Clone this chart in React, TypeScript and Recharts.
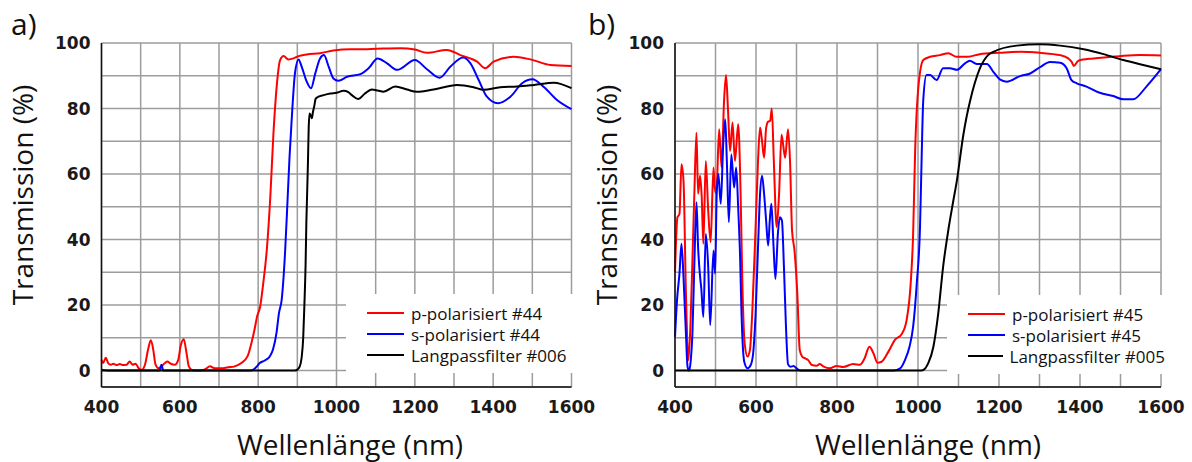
import { LineChart, Line, XAxis, YAxis, CartesianGrid, Legend } from "recharts";

type Pt = [number, number];

const X_TICKS = [400, 500, 600, 700, 800, 900, 1000, 1100, 1200, 1300, 1400, 1500, 1600];
const Y_TICKS = [0, 10, 20, 30, 40, 50, 60, 70, 80, 90, 100];

// panel a) — filter #44 / Langpass #006
const P44: Pt[] = [
  [400, 3.3], [404, 2.3], [411, 3.9], [417, 2.3], [424, 1.8], [430, 2.1], [438, 1.7], [447, 2.0],
  [455, 1.7], [464, 1.8], [472, 2.8], [479, 1.8], [487, 2.1], [495, 0.7], [502, 0.2], [511, 1.8],
  [519, 6.5], [526, 9.3], [532, 6.5], [538, 1.8], [546, 0.7], [553, 1.3], [562, 2.3], [568, 2.8],
  [577, 2.1], [587, 1.8], [596, 3.3], [602, 7.5], [610, 9.6], [617, 5.4], [623, 1.3], [631, 0.2],
  [647, 0], [664, 0.4], [677, 1.3], [689, 0.7], [706, 0.7], [723, 1.0], [740, 1.3], [757, 2.3],
  [773, 4.4], [783, 8.5], [791, 12.7], [797, 16.4], [805, 19.5], [813, 26.7], [822, 36.8], [831, 53],
  [839, 72.4], [848, 87.7], [856, 94.8], [865, 96], [877, 95], [890, 95.3], [903, 96], [924, 96.5],
  [958, 96.9], [992, 97.7], [1035, 98.1], [1078, 98.1], [1120, 98.3], [1163, 98.4], [1200, 98.0],
  [1231, 97], [1282, 97.9], [1316, 96.3], [1359, 94.3], [1380, 92.3], [1401, 94.3], [1452, 95.8],
  [1495, 95], [1546, 93.3], [1600, 93],
];

const S44: Pt[] = [
  [400, 0.3], [420, 0], [540, 0], [548, 0], [553, 1.8], [558, 0], [780, 0], [790, 0.5], [796, 1.2],
  [804, 2.3], [817, 3.1], [830, 4.4], [838, 6.5], [847, 11.7], [853, 17.5], [860, 21.6], [869, 36.8],
  [875, 52], [880, 65], [886, 77.5], [894, 90.8], [903, 95], [911, 92.8], [924, 88.2], [935, 86.2],
  [946, 90.8], [958, 95.3], [968, 96.3], [980, 92.8], [992, 89.2], [1005, 88.5], [1027, 89.7],
  [1061, 90.5], [1082, 92.3], [1105, 95.3], [1129, 93.8], [1155, 91.8], [1200, 94.8], [1231, 92],
  [1263, 89.4], [1291, 92.8], [1323, 95.6], [1342, 93.8], [1363, 88.7], [1384, 83.6], [1412, 81.6],
  [1444, 83.6], [1474, 87.7], [1500, 88.9], [1530, 86.5], [1563, 82.6], [1600, 79.8],
];

const LP006: Pt[] = [
  [400, 0], [893, 0], [900, 0.3], [906, 1.2], [911, 4], [915, 10], [918, 20], [921, 32], [923, 45],
  [925, 54], [927, 63], [929, 74], [931, 78.5], [934, 78], [937, 77], [940, 79], [943, 80.6],
  [947, 83], [954, 83.6], [967, 84.1], [984, 84.6], [1000, 84.8], [1018, 85.4], [1030, 85],
  [1040, 84], [1055, 82.9], [1072, 84.5], [1090, 85.8], [1105, 85.5], [1120, 85.1], [1150, 86.7],
  [1180, 85.8], [1205, 85.1], [1248, 85.8], [1308, 87.2], [1350, 86.5], [1376, 85.7], [1418, 86.5],
  [1461, 86.7], [1504, 87.2], [1555, 87.9], [1600, 86.2],
];

// panel b) — filter #45 / Langpass #005
const P45: Pt[] = [
  [400, 30], [406, 46.8], [411, 47.8], [416, 63], [421, 58], [427, 23.5], [433, 3.2], [438, 13.4],
  [443, 33.6], [448, 55], [453, 72.6], [457, 54], [462, 59.5], [466, 52.9], [470, 38.7], [476, 64],
  [482, 48.8], [488, 39.2], [495, 62], [498, 56], [502, 54], [509, 73.7], [515, 62], [521, 82],
  [526, 90.2], [531, 79.2], [536, 67], [542, 75.7], [548, 64], [556, 75.2], [562, 54], [566, 28.6],
  [572, 8.3], [579, 4.3], [585, 6.3], [591, 18.4], [599, 43.8], [605, 64], [610, 74.2], [615, 70],
  [620, 65], [625, 74], [630, 76], [635, 76.2], [639, 80], [644, 64], [651, 43.8], [657, 54],
  [663, 72], [667, 69], [672, 65], [679, 73.7], [684, 64], [689, 42.8], [695, 36.7], [702, 23.5],
  [708, 6.3], [714, 4.3], [722, 3.7], [729, 3.2], [738, 1.7], [750, 1.5], [757, 2], [766, 1.3],
  [782, 0.7], [799, 1.4], [815, 1.1], [840, 2], [857, 1.8], [868, 3.7], [880, 7.3], [890, 5.3],
  [900, 2.4], [910, 2.7], [927, 5.8], [943, 9.4], [960, 11.2], [972, 15.5], [982, 26.7], [988, 41.8],
  [993, 67.3], [1001, 86.7], [1013, 94.8], [1030, 95.8], [1054, 96.3], [1075, 96.9], [1095, 95.8],
  [1124, 95.8], [1152, 96.6], [1202, 97], [1252, 97.3], [1301, 97], [1351, 96.3], [1371, 95.3],
  [1379, 94.3], [1385, 93], [1396, 94.6], [1433, 95.3], [1499, 96], [1548, 96.3], [1600, 96.2],
];

const S45: Pt[] = [
  [400, 10.3], [405, 21.5], [411, 29.6], [416, 38.7], [421, 28.6], [427, 11.3], [431, 1.2], [435, 0],
  [439, 3.2], [443, 11.3], [448, 33.6], [453, 51.4], [457, 37.7], [462, 28.6], [465, 25], [470, 16.4],
  [476, 41.7], [482, 31.6], [487, 13.9], [495, 36.7], [499, 29.6], [503, 53.9], [507, 60], [513, 50.9],
  [519, 69], [524, 76.7], [528, 64], [533, 45.3], [539, 66], [546, 55.9], [551, 62], [556, 49.8],
  [561, 33.6], [564, 18.4], [571, 2.7], [579, 0.7], [587, 1.7], [593, 5.3], [599, 17.4], [605, 37.7],
  [610, 53.9], [615, 59.5], [620, 53.9], [625, 45.8], [630, 38.2], [634, 45.8], [638, 50.9],
  [643, 38.7], [648, 28], [654, 41.7], [659, 46.8], [664, 45.8], [669, 31.6], [674, 13.4], [679, 2],
  [685, 1.2], [693, 1.4], [700, 0.7], [710, 0], [940, 0], [956, 0.7], [968, 3.3], [979, 7.3],
  [988, 13.4], [997, 26.7], [1005, 43.9], [1009, 65], [1013, 82.6], [1021, 90.2], [1030, 90.2],
  [1046, 88.7], [1062, 92.3], [1079, 92.3], [1096, 91.8], [1116, 93.8], [1128, 94.6], [1145, 93.6],
  [1170, 93.6], [1186, 91.2], [1202, 88.9], [1219, 88.2], [1252, 89.9], [1277, 90.7], [1301, 92.6],
  [1326, 94.2], [1351, 94], [1367, 92.3], [1379, 88.7], [1392, 87.7], [1416, 86.7], [1449, 84.8],
  [1482, 83.8], [1507, 82.8], [1531, 82.8], [1564, 86.7], [1600, 92],
];

const LP005: Pt[] = [
  [400, 0], [1005, 0], [1013, 0.2], [1025, 2.2], [1038, 7.3], [1050, 17.5], [1062, 31.7], [1075, 43],
  [1086, 51], [1096, 58], [1112, 72], [1120, 77.5], [1128, 82], [1153, 92.3], [1173, 96.3],
  [1186, 97.3], [1244, 99.2], [1301, 99.6], [1351, 99.2], [1409, 98.1], [1458, 96.6], [1507, 94.8],
  [1556, 93.3], [1600, 92],
];

const NAMES_A = ["p-polarisiert #44", "s-polarisiert #44", "Langpassfilter #006"];
const NAMES_B = ["p-polarisiert #45", "s-polarisiert #45", "Langpassfilter #005"];
const COLORS = ["#ff0000", "#0000ff", "#000000"];

const TITLE_FONT = "'Open Sans', 'Noto Sans', sans-serif";
const TICK_FONT = "'DejaVu Sans', sans-serif";

const rows = (pts: Pt[]) => pts.map(([nm, t]) => ({ nm, t }));

function LegendBox({ payload, order }: any) {
  // keep series order (recharts sorts legend items by name)
  const items = [...(payload ?? [])].sort(
    (a: any, b: any) => order.indexOf(a.value) - order.indexOf(b.value)
  );
  return (
    <div style={{ background: "#fff", width: "100%", height: "100%", paddingTop: 8.5, boxSizing: "border-box" }}>
      {items.map((entry: any) => (
        <div key={entry.value} style={{ display: "flex", alignItems: "center", height: 21 }}>
          <div style={{ marginLeft: 21, width: 37, height: 2, background: entry.color }} />
          <span
            style={{
              marginLeft: 7,
              fontFamily: TITLE_FONT,
              fontSize: 17,
              color: "#111",
              whiteSpace: "nowrap",
              lineHeight: "21px",
            }}
          >
            {entry.value}
          </span>
        </div>
      ))}
    </div>
  );
}

type PanelProps = {
  left: number;
  width: number;
  marginLeft: number;
  marginRight: number;
  letter: string;
  letterX: number;
  xTitleX: number;
  yTitleX: number;
  legend: { left: number; top: number; width: number };
  names: string[];
  series: Pt[][];
};

function Panel(p: PanelProps) {
  return (
    <div style={{ position: "absolute", left: p.left, top: 0 }}>
      <LineChart
        width={p.width}
        height={462}
        margin={{ top: 43, right: p.marginRight, bottom: 45, left: p.marginLeft }}
      >
        <CartesianGrid stroke="#9c9c9c" strokeWidth={1.5} />
        <XAxis
          type="number"
          dataKey="nm"
          domain={[400, 1600]}
          ticks={X_TICKS}
          interval={0}
          height={30}
          tickLine={false}
          tickSize={0}
          tickMargin={14}
          axisLine={{ stroke: "#111", strokeWidth: 1.5 }}
          tickFormatter={(v: number) => (v % 200 === 0 ? String(v) : "")}
          tick={{ fontFamily: TICK_FONT, fontWeight: 700, fontSize: 17, fill: "#1a1a1a" }}
        />
        <YAxis
          type="number"
          domain={[-5, 100]}
          ticks={Y_TICKS}
          interval={0}
          width={60}
          tickLine={false}
          tickSize={0}
          tickMargin={11}
          axisLine={{ stroke: "#111", strokeWidth: 1.5 }}
          tickFormatter={(v: number) => (v % 20 === 0 ? String(v) : "")}
          tick={{ fontFamily: TICK_FONT, fontWeight: 700, fontSize: 17, fill: "#1a1a1a" }}
        />
        {p.series.map((s, i) => (
          <Line
            key={p.names[i]}
            data={rows(s)}
            dataKey="t"
            name={p.names[i]}
            type="monotone"
            stroke={COLORS[i]}
            strokeWidth={2}
            dot={false}
            isAnimationActive={false}
          />
        ))}
        <Legend
          layout="horizontal"
          verticalAlign="middle"
          align="center"
          content={<LegendBox order={p.names} />}
          wrapperStyle={{ left: p.legend.left, top: p.legend.top, width: p.legend.width, height: 79 }}
        />
        <text x={p.letterX} y={35} fontFamily={TITLE_FONT} fontSize={30} fill="#111">
          {p.letter}
        </text>
        <text x={p.xTitleX} y={455} textAnchor="middle" fontFamily={TITLE_FONT} fontSize={28} fill="#111">
          Wellenlänge (nm)
        </text>
        <text
          x={p.yTitleX}
          y={195}
          transform={`rotate(-90 ${p.yTitleX} 195)`}
          textAnchor="middle"
          fontFamily={TITLE_FONT}
          fontSize={28}
          fill="#111"
        >
          Transmission (%)
        </text>
      </LineChart>
    </div>
  );
}

export default function App() {
  return (
    <div style={{ position: "absolute", left: 0, top: 0, width: 1192, height: 462, background: "#fff" }}>
      <Panel
        left={0}
        width={600}
        marginLeft={41.5}
        marginRight={28.5}
        letter="a)"
        letterX={11}
        xTitleX={350}
        yTitleX={33}
        legend={{ left: 346, top: 294, width: 228 }}
        names={NAMES_A}
        series={[P44, S44, LP006]}
      />
      <Panel
        left={580}
        width={612}
        marginLeft={35}
        marginRight={31}
        letter="b)"
        letterX={8}
        xTitleX={348}
        yTitleX={37}
        legend={{ left: 367, top: 295, width: 218 }}
        names={NAMES_B}
        series={[P45, S45, LP005]}
      />
    </div>
  );
}
